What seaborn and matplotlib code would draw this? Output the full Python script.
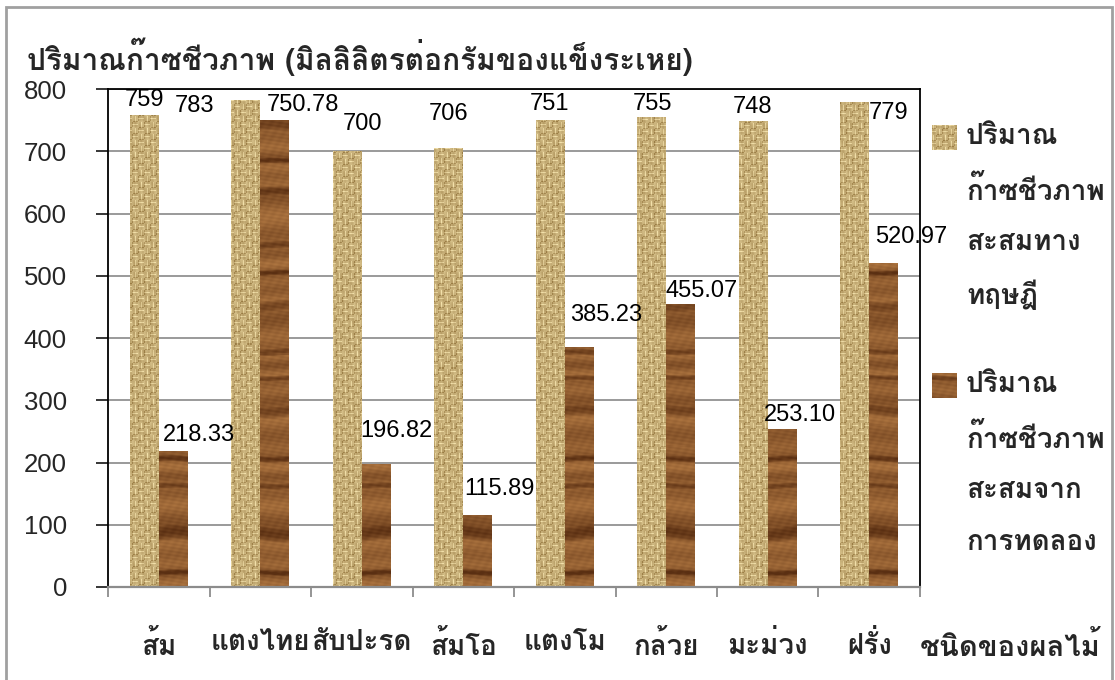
import glob
import numpy as np
import pandas as pd
import matplotlib
matplotlib.use("Agg")
import matplotlib.pyplot as plt
from matplotlib import font_manager
from matplotlib.patches import Rectangle
import seaborn as sns

# ---- data -------------------------------------------------------------
fruits = ["ส้ม", "แตงไทย", "สับปะรด", "ส้มโอ", "แตงโม", "กล้วย", "มะม่วง", "ฝรั่ง"]
theoretical = [759, 783, 700, 706, 751, 755, 748, 779]
experimental = [218.33, 750.78, 196.82, 115.89, 385.23, 455.07, 253.10, 520.97]
series_names = ["ปริมาณก๊าซชีวภาพสะสมทางทฤษฎี", "ปริมาณก๊าซชีวภาพสะสมจากการทดลอง"]
legend_lines = [["ปริมาณ", "ก๊าซชีวภาพ", "สะสมทาง", "ทฤษฎี"],
                ["ปริมาณ", "ก๊าซชีวภาพ", "สะสมจาก", "การทดลอง"]]
y_ticks = [0, 100, 200, 300, 400, 500, 600, 700, 800]
title = "ปริมาณก๊าซชีวภาพ (มิลลิลิตรต่อกรัมของแข็งระเหย)"
x_title = "ชนิดของผลไม้"

# label placement (pixel offsets of each value label from its bar's top centre)
theo_offsets = [(0, 17), (-51, -4), (15, 30), (0, 36), (-1, 18), (1, 16), (-1, 17), (34, -8)]
exp_offsets = [(26, 19), (28, 17), (20, 36), (22, 28), (27, 35), (21, 15), (18, 17), (28, 28)]

# ---- fonts ------------------------------------------------------------
def find_font(names):
    for n in names:
        hits = glob.glob(f"/usr/share/fonts/**/{n}", recursive=True)
        if hits:
            font_manager.fontManager.addfont(hits[0])
            return font_manager.FontProperties(fname=hits[0]).get_name()
    return "DejaVu Sans"

thai = find_font(["Loma-Bold.otf", "Loma-Bold.ttf", "Sarabun-Bold.ttf", "NotoSansThai-Bold.ttf"])

sns.set_theme(style="white")
plt.rcParams["font.family"] = ["Liberation Sans", "DejaVu Sans"]

# ---- textures ---------------------------------------------------------
def burlap(X, Y):
    cell = 6
    chk = ((X // cell) + (Y // cell)) % 2
    thread = np.where(chk == 0, np.cos(2 * np.pi * Y / 3.0), np.cos(2 * np.pi * X / 3.0))
    edge = (((X % cell) < 1) | ((Y % cell) < 1)).astype(float)
    mottle = np.sin(X * 0.9 + Y * 0.31) * np.sin(Y * 0.23 - X * 0.47)
    v = np.clip(0.66 + 0.22 * thread - 0.28 * edge + 0.12 * mottle, 0, 1)
    light = np.array([244, 226, 172]) / 255
    dark = np.array([138, 106, 50]) / 255
    return dark + (light - dark) * v[..., None]


def wood(X, Y):
    warp = 1.6 * np.sin(Y * 0.061) + 0.9 * np.sin(Y * 0.017 + 0.7) + 0.2 * np.sin(X * 0.09 + Y * 0.01)
    broad = 0.6 * np.sin(2 * np.pi * Y / 23.0 + warp) + 0.4 * np.sin(2 * np.pi * Y / 41.0 + 0.5 * warp)
    streak = np.sin(2 * np.pi * Y / 37.0 + 0.8 * warp + 1.3)
    dark_band = np.clip((streak - 0.75) / 0.25, 0, 1)
    grain = 0.05 * np.sin(Y * 1.7 + X * 0.25) + 0.04 * np.sin(X * 0.7 - Y * 0.4)
    v = np.clip(0.6 + 0.2 * broad - 0.45 * dark_band + grain, 0, 1)
    light = np.array([184, 126, 70]) / 255
    dark = np.array([90, 47, 18]) / 255
    return dark + (light - dark) * v[..., None]


def texture_grid(x0, y0, w, h):
    xs = np.arange(int(round(x0)), int(round(x0)) + max(int(round(w)), 1))
    ys = np.arange(int(round(y0)), int(round(y0)) - max(int(round(h)), 1), -1)
    return np.meshgrid(xs.astype(float), ys.astype(float))

# ---- figure -----------------------------------------------------------
W, H = 1115, 680
fig = plt.figure(figsize=(W / 100, H / 100), dpi=100)
ax = fig.add_axes([108 / W, 1 - 587 / H, (920 - 108) / W, (587 - 89) / H])

df = pd.DataFrame({
    "fruit": fruits * 2,
    "value": theoretical + experimental,
    "series": [series_names[0]] * len(fruits) + [series_names[1]] * len(fruits),
})
sns.barplot(data=df, x="fruit", y="value", hue="series", order=fruits,
            hue_order=series_names, palette=["#cdb47e", "#8a5530"],
            width=0.57, saturation=1, dodge=True, legend=False, ax=ax,
            edgecolor="none", linewidth=0, errorbar=None)

ax.set_xlim(-0.5, len(fruits) - 0.5)
ax.set_ylim(0, 800)

tex_funcs = [burlap, wood]
for cont, func in zip(ax.containers, tex_funcs):
    for bar in cont:
        x0, w, h = bar.get_x(), bar.get_width(), bar.get_height()
        (px0, py0), (px1, py1) = ax.transData.transform([(x0, 0), (x0 + w, h)])
        X, Y = texture_grid(px0, py1, px1 - px0, py1 - py0)
        img = ax.imshow(func(X, Y), extent=(x0, x0 + w, 0, h), aspect="auto",
                        interpolation="nearest", zorder=bar.get_zorder() + 0.1)
        img.set_clip_path(bar)

ax.set_xlim(-0.5, len(fruits) - 0.5)
ax.set_ylim(0, 800)

# value labels
for cont, vals, offs, fmt in zip(ax.containers, [theoretical, experimental],
                                 [theo_offsets, exp_offsets], ["{:.0f}", "{:.2f}"]):
    for bar, v, (dx, dy) in zip(cont, vals, offs):
        ax.annotate(fmt.format(v), (bar.get_x() + bar.get_width() / 2, v),
                    xytext=(dx, dy - 8.5), textcoords="offset pixels",
                    ha="center", va="baseline", fontsize=17, color="black",
                    zorder=5, annotation_clip=False)

# axes styling
ax.set_yticks(y_ticks)
ax.set_yticklabels([str(t) for t in y_ticks])
ax.yaxis.grid(True, color="#9a9a9a", linewidth=1.4)
ax.xaxis.grid(False)
ax.set_axisbelow(True)
ax.tick_params(axis="y", length=8.6, width=1.1, color="black", pad=21,
               labelsize=18.5, left=True, direction="out")
ax.set_xticks(range(len(fruits)))
ax.set_xticklabels(fruits, fontfamily=thai, fontweight="bold", fontsize=20)
ax.set_xticks(np.arange(-0.5, len(fruits)), minor=True)
ax.tick_params(axis="x", which="major", length=0, pad=31)
ax.tick_params(axis="x", which="minor", length=7.5, width=1.3, color="#8c8c8c",
               bottom=True, direction="out")
ax.set_xlabel("")
ax.set_ylabel("")
for side in ["left", "top", "right"]:
    ax.spines[side].set_color("black")
    ax.spines[side].set_linewidth(1.3)
ax.spines["bottom"].set_color("#8c8c8c")
ax.spines["bottom"].set_linewidth(1.6)
for s in ax.spines.values():
    s.set_visible(True)

# titles
fig.text(27 / W, 1 - 57 / H, title, fontfamily=thai, fontweight="bold",
         fontsize=21.5, ha="left", va="center")
fig.text(1010 / W, 1 - 647 / H, x_title, fontfamily=thai, fontweight="bold",
         fontsize=21, ha="center", va="center")

# legend: textured swatch + stacked label lines per series
swatch_tops = [125, 373]
for top, lines, func in zip(swatch_tops, legend_lines, tex_funcs):
    sax = fig.add_axes([932 / W, 1 - (top + 25) / H, 25 / W, 25 / H])
    X, Y = texture_grid(932, H - top, 25, 25)
    sax.imshow(func(X, Y), aspect="auto", interpolation="nearest")
    sax.set_axis_off()
    for i, line in enumerate(lines):
        fig.text(966 / W, 1 - (top + 12 + 52.5 * i) / H, line, fontfamily=thai,
                 fontweight="bold", fontsize=20, ha="left", va="center")

# outer frame
fig.patches.append(Rectangle((6 / W, -0.02), (1112 - 6) / W, 0.02 + (H - 7) / H,
                             transform=fig.transFigure, fill=False,
                             edgecolor="#a0a0a0", linewidth=2))

fig.savefig("out.png", dpi=100)
